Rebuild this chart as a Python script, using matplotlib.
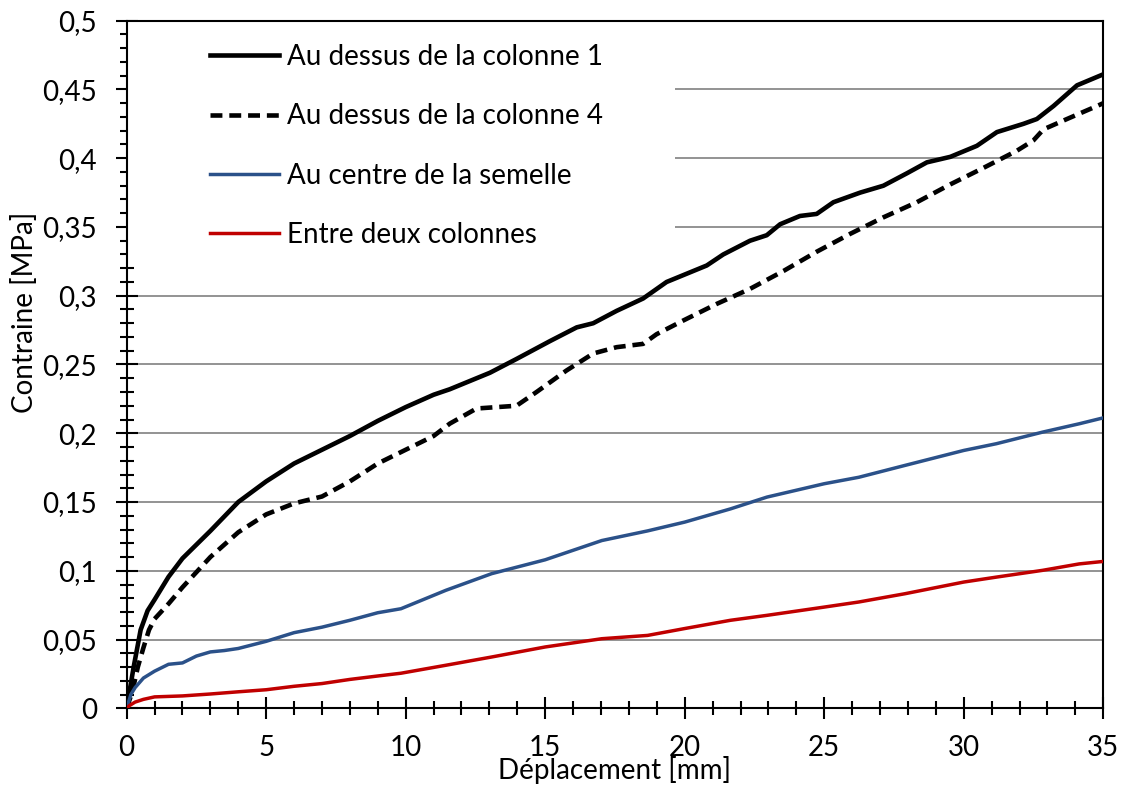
import matplotlib
matplotlib.use("Agg")
import matplotlib.pyplot as plt
from matplotlib.patches import Rectangle
from matplotlib.ticker import MultipleLocator

plt.rcParams['font.family'] = ['Lato', 'DejaVu Sans']

# data
col1_x = [0, 0.1, 0.25, 0.5, 0.75, 1, 1.5, 2, 2.5, 3, 4, 5, 6, 7, 8, 9, 10, 11,
          11.58, 13.02, 13.97, 15.17, 16.13, 16.72, 17.56, 18.51, 19.35, 20.19,
          20.79, 21.38, 22.34, 22.94, 23.42, 24.13, 24.73, 25.33, 26.29, 27.12,
          27.96, 28.68, 29.52, 30.47, 31.19, 32.14, 32.62, 33.22, 34.06, 35]
col1_y = [0, 0.012, 0.03, 0.057, 0.071, 0.079, 0.0956, 0.109, 0.119, 0.129, 0.150,
          0.165, 0.178, 0.188, 0.198, 0.209, 0.219, 0.228, 0.232, 0.244, 0.254,
          0.267, 0.277, 0.280, 0.289, 0.298, 0.310, 0.317, 0.322, 0.330, 0.340,
          0.344, 0.352, 0.358, 0.3595, 0.368, 0.375, 0.380, 0.389, 0.397, 0.401,
          0.409, 0.419, 0.425, 0.4285, 0.438, 0.453, 0.461]

col4_x = [0, 0.2, 0.4, 0.6, 0.8, 1, 1.5, 2, 3, 4, 5, 6, 7, 8, 9, 10, 11, 11.58,
          12.54, 13.97, 14.69, 15.76, 16.72, 17.56, 18.51, 18.99, 19.95, 21.14,
          22.34, 23.54, 24.73, 25.93, 27.12, 28.32, 29.52, 30.71, 31.91, 32.5,
          32.86, 33.7, 34.78, 35]
col4_y = [0, 0.012, 0.030, 0.044, 0.057, 0.065, 0.076, 0.088, 0.110, 0.128, 0.141,
          0.149, 0.154, 0.165, 0.178, 0.188, 0.198, 0.207, 0.218, 0.220, 0.230,
          0.2456, 0.258, 0.2626, 0.265, 0.272, 0.282, 0.294, 0.305, 0.318, 0.332,
          0.345, 0.357, 0.368, 0.381, 0.393, 0.4055, 0.413, 0.421, 0.4285, 0.438,
          0.440]

centre_x = [0, 0.15, 0.3, 0.6, 1, 1.5, 2, 2.5, 3, 3.5, 4, 5, 6, 7, 8, 9, 9.83,
            11.44, 13.08, 15, 17.03, 18.67, 20, 21.64, 22.95, 25, 26.24, 27.89,
            30, 31.17, 32.82, 34.14, 35]
centre_y = [0, 0.01, 0.015, 0.022, 0.027, 0.032, 0.033, 0.038, 0.041, 0.042,
            0.0435, 0.0487, 0.055, 0.059, 0.064, 0.0695, 0.0724, 0.0858, 0.0979,
            0.108, 0.122, 0.129, 0.1354, 0.145, 0.1536, 0.1633, 0.168, 0.1766,
            0.1875, 0.1924, 0.2008, 0.2069, 0.2112]

entre_x = [0, 0.1, 0.3, 0.6, 1, 2, 3, 4, 5, 6, 7, 8, 9, 9.83, 11.44, 13.08, 15,
           17.03, 18.67, 20, 21.64, 22.95, 25, 26.24, 27.89, 30, 31.17, 32.82,
           34.14, 35]
entre_y = [0, 0.002, 0.0045, 0.0065, 0.0083, 0.009, 0.0104, 0.012, 0.0135, 0.016,
           0.018, 0.021, 0.0235, 0.0255, 0.0313, 0.0373, 0.0446, 0.0506, 0.053,
           0.058, 0.064, 0.0676, 0.0736, 0.0773, 0.0833, 0.0918, 0.0954, 0.1003,
           0.105, 0.1068]

labels = ["Au dessus de la colonne 1", "Au dessus de la colonne 4",
          "Au centre de la semelle", "Entre deux colonnes"]

x_ticks = [0, 5, 10, 15, 20, 25, 30, 35]
y_ticks = [0, 0.05, 0.1, 0.15, 0.2, 0.25, 0.3, 0.35, 0.4, 0.45, 0.5]
y_tick_labels = ["0", "0,05", "0,1", "0,15", "0,2", "0,25", "0,3", "0,35",
                 "0,4", "0,45", "0,5"]

fs = 20

fig = plt.figure(figsize=(11.23, 7.87), dpi=100)
ax = fig.add_axes([0.1128, 0.1000, 0.8696, 0.8737])

ax.plot(col1_x, col1_y, color='black', lw=3.3, label=labels[0], zorder=3)
ax.plot(col4_x, col4_y, color='black', lw=3.3, dashes=(2.6, 1.5), label=labels[1], zorder=3)
ax.plot(centre_x, centre_y, color='#2B5189', lw=2.5, label=labels[2], zorder=3)
ax.plot(entre_x, entre_y, color='#C00000', lw=2.5, label=labels[3], zorder=3)

ax.set_xlim(0, 35)
ax.set_ylim(0, 0.5)
ax.set_xticks(x_ticks)
ax.set_yticks(y_ticks)
ax.set_yticklabels(y_tick_labels)
ax.xaxis.set_minor_locator(MultipleLocator(1))
ax.yaxis.set_minor_locator(MultipleLocator(0.01))
ax.tick_params(which='major', direction='inout', length=16, width=1.5, labelsize=fs)
ax.tick_params(which='minor', direction='inout', length=9.5, width=1.5)
ax.tick_params(axis='y', which='major', pad=13.5)
ax.tick_params(axis='x', which='major', pad=11)

ax.set_axisbelow(True)
ax.grid(axis='y', which='major', color='#8a8a8a', lw=1.3)
for s in ax.spines.values():
    s.set_linewidth(1.5)

# white box behind the legend hides the gridlines there
ax.add_patch(Rectangle((0, 0.645), 0.5614, 0.355, transform=ax.transAxes,
                       facecolor='white', edgecolor='none', zorder=1))

ax.legend(loc='upper left', bbox_to_anchor=(0.0858, 0.966), frameon=False,
          fontsize=fs, handlelength=2.45, handletextpad=0.29,
          labelspacing=1.2, borderpad=0, borderaxespad=0)

ax.set_xlabel("Déplacement [mm]", fontsize=fs)
ax.set_ylabel("Contraine [MPa]", fontsize=fs)
ax.xaxis.set_label_coords(0.5, -0.069)
ax.yaxis.set_label_coords(-0.091, 0.576)

fig.savefig("out.png", dpi=100)
